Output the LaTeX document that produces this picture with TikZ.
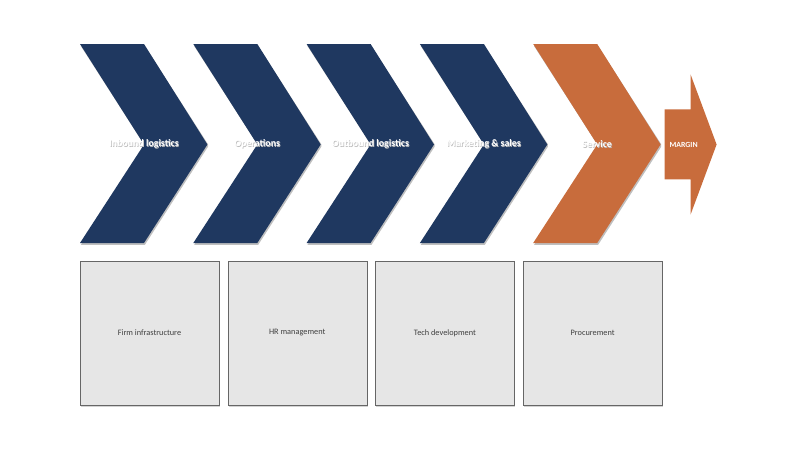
\documentclass[tikz,border=0pt]{standalone}
\usepackage{fontspec}
\setmainfont{Carlito}
\usetikzlibrary{shapes,shadows,arrows,positioning}
\definecolor{navy}{RGB}{31,56,96}
\definecolor{rust}{RGB}{200,108,60}
\definecolor{boxgray}{RGB}{230,230,230}
\newcommand{\shtext}[1]{{\color{black!25}\rlap{\kern0.7pt\raisebox{-0.7pt}{#1}}}#1}
\tikzstyle{chev} = [rectangle, minimum width=128pt, minimum height=199pt, inner sep=0pt, text=white, font=\bfseries\fontsize{9.9}{11}\selectfont, node distance=113.3pt, chev color=navy]
\tikzset{chev color/.style={path picture={
	\fill [black!25] ([xshift=0.8pt, yshift=-1pt]path picture bounding box.north west) -- ([xshift=-63.2pt, yshift=-1pt]path picture bounding box.north east) -- ([xshift=0.8pt, yshift=-1pt]path picture bounding box.east) -- ([xshift=-63.2pt, yshift=-1pt]path picture bounding box.south east) -- ([xshift=0.8pt, yshift=-1pt]path picture bounding box.south west) -- ([xshift=64.8pt, yshift=-1pt]path picture bounding box.west) -- cycle;
	\fill [#1] ([yshift=1pt]path picture bounding box.north west) -- ([xshift=-64pt, yshift=1pt]path picture bounding box.north east) -- ([xshift=-0.6pt]path picture bounding box.east) -- ([xshift=-64pt, yshift=1pt]path picture bounding box.south east) -- ([yshift=1pt]path picture bounding box.south west) -- ([xshift=64pt]path picture bounding box.west) -- cycle;}}}
\tikzstyle{chev_end} = [chev, chev color=rust]
\tikzstyle{margin_arrow} = [rectangle, minimum width=52pt, minimum height=140pt, inner sep=0pt, text=white, font=\bfseries\fontsize{7.8}{9}\selectfont, path picture={
	\fill [rust] ([yshift=35pt]path picture bounding box.west) -- ([xshift=26pt, yshift=35pt]path picture bounding box.west) -- (path picture bounding box.north) -- (path picture bounding box.east) -- (path picture bounding box.south) -- ([xshift=26pt, yshift=-35pt]path picture bounding box.west) -- ([yshift=-35pt]path picture bounding box.west) -- cycle;}]
\tikzstyle{support} = [rectangle, draw=black!60, fill=boxgray, minimum width=139pt, minimum height=144pt, text=black!75, font=\fontsize{8.3}{9}\selectfont, node distance=147.7pt, drop shadow={shadow xshift=1pt, shadow yshift=-1.5pt, opacity=0.35}]
\begin{document}
\begin{tikzpicture}[x=1pt, y=-1pt]
	\useasboundingbox (0,0) rectangle (800,449);
	% primary activities
	\node [chev] (inbound) at (144,144.5) {\shtext{Inbound logistics}};
	\node [chev, right of=inbound] (operations) {\shtext{Operations}};
	\node [chev, right of=operations] (outbound) {\shtext{Outbound logistics}};
	\node [chev, right of=outbound] (marketing) {\shtext{Marketing \& sales}};
	\node [chev_end, right of=marketing] (service) {\shtext{Service}};
	\node [margin_arrow, right=3pt of service] (margin) {\kern-14pt MARGIN};
	% support activities
	\node [support] (firm) at (149.5,333) {Firm infrastructure};
	\node [support, right of=firm] (hr) {HR management};
	\node [support, right of=hr] (tech) {Tech development};
	\node [support, right of=tech] (procure) {Procurement};
\end{tikzpicture}
\end{document}
